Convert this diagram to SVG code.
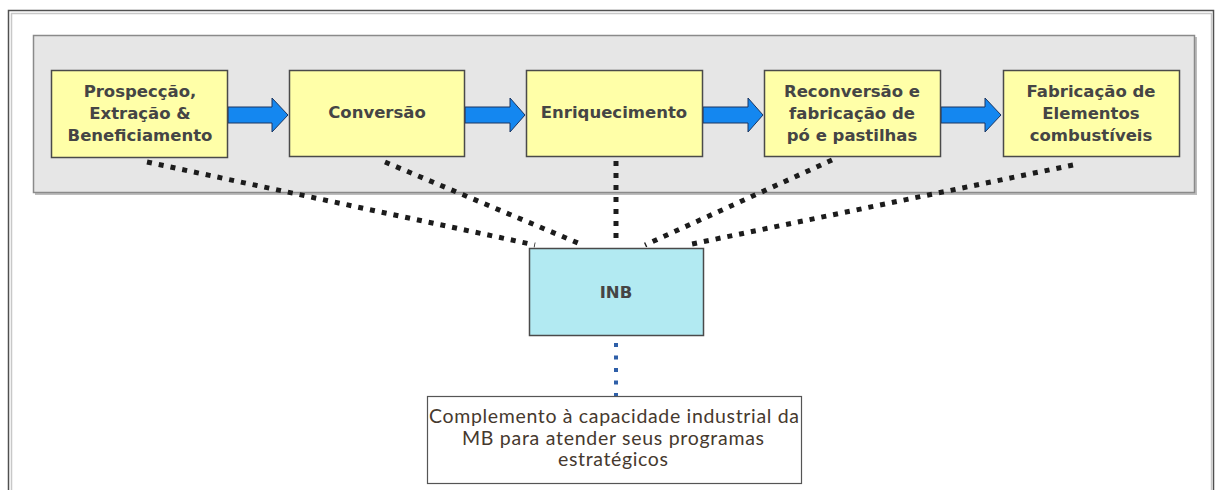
<svg xmlns="http://www.w3.org/2000/svg" width="1216" height="490" viewBox="0 0 1216 490">
<defs>
<style>
.step{fill:#FFFFA8;stroke:#4a4a4a;stroke-width:1.5}
.lbl{font-family:"DejaVu Sans",Verdana,sans-serif;font-weight:bold;font-size:16.5px;fill:#454545;text-anchor:middle}
.arrow{fill:#1487F0;stroke:#1a3560;stroke-width:1}
.dot{fill:none;stroke:#1c1c1c;stroke-width:5;stroke-dasharray:5 7}
.bdot{fill:none;stroke:#2E5FA8;stroke-width:4;stroke-dasharray:4 8.5}
.note{font-family:Lato,"Open Sans",sans-serif;font-size:19.5px;fill:#46392e;text-anchor:middle}
</style>
</defs>
<rect width="1216" height="490" fill="#ffffff"/>
<!-- outer frame -->
<rect x="8.5" y="10.5" width="1205" height="500" fill="none" stroke="#505050" stroke-width="1.5"/>
<rect x="11.5" y="13.5" width="1200" height="500" fill="none" stroke="#c8c8c8" stroke-width="1.5"/>
<!-- panel -->
<g id="panel">
<rect x="34" y="36" width="1162" height="158" fill="#bdbdbd" transform="translate(1,1)"/>
<rect x="33.5" y="35.5" width="1161" height="157" fill="#E6E6E6" stroke="#8a8a8a" stroke-width="1.5"/>
</g>
<!-- connectors -->
<g id="connectors">
<path class="arrow" d="M228 107H272V98L288 115L272 132V123H228Z"/>
<path class="arrow" d="M465 107H510V98L525 115L510 132V123H465Z"/>
<path class="arrow" d="M703 107H748V98L763 115L748 132V123H703Z"/>
<path class="arrow" d="M941 107H985V98L1001 115L985 132V123H941Z"/>
<line class="dot" x1="147" y1="162" x2="535" y2="245"/>
<line class="dot" x1="385" y1="162" x2="578" y2="243"/>
<line class="dot" x1="616" y1="161" x2="616" y2="245"/>
<line class="dot" x1="832" y1="160" x2="645" y2="245"/>
<line class="dot" x1="1073" y1="165" x2="687" y2="245"/>
<line class="bdot" x1="616" y1="343" x2="616" y2="396"/>
</g>
<g id="n1">
<rect class="step" x="51.5" y="70.5" width="176" height="87"/>
<text class="lbl" x="140" y="97">Prospecção,</text>
<text class="lbl" x="140" y="119">Extração &amp;</text>
<text class="lbl" x="140" y="141">Beneficiamento</text>
</g>
<g id="n2">
<rect class="step" x="289.5" y="70.5" width="175" height="86"/>
<text class="lbl" x="377" y="118">Conversão</text>
</g>
<g id="n3">
<rect class="step" x="526.5" y="70.5" width="176" height="86"/>
<text class="lbl" x="614" y="118">Enriquecimento</text>
</g>
<g id="n4">
<rect class="step" x="764.5" y="70.5" width="176" height="86"/>
<text class="lbl" x="852" y="97">Reconversão e</text>
<text class="lbl" x="852" y="119">fabricação de</text>
<text class="lbl" x="852" y="141">pó e pastilhas</text>
</g>
<g id="n5">
<rect class="step" x="1003.5" y="70.5" width="176" height="86"/>
<text class="lbl" x="1091" y="97">Fabricação de</text>
<text class="lbl" x="1091" y="119">Elementos</text>
<text class="lbl" x="1091" y="141">combustíveis</text>
</g>
<g id="inb">
<rect x="529.5" y="248.5" width="174" height="87" fill="#B2EAF2" stroke="#4a4a4a" stroke-width="1.5"/>
<text class="lbl" x="616" y="298">INB</text>
</g>
<g id="nota">
<rect x="427.5" y="396.5" width="374" height="87" fill="#ffffff" stroke="#555555" stroke-width="1.2"/>
<text class="note" x="614" y="423" textLength="370" lengthAdjust="spacing">Complemento à capacidade industrial da</text>
<text class="note" x="613" y="445" textLength="302" lengthAdjust="spacing">MB para atender seus programas</text>
<text class="note" x="613" y="466" textLength="110" lengthAdjust="spacing">estratégicos</text>
</g>
</svg>
